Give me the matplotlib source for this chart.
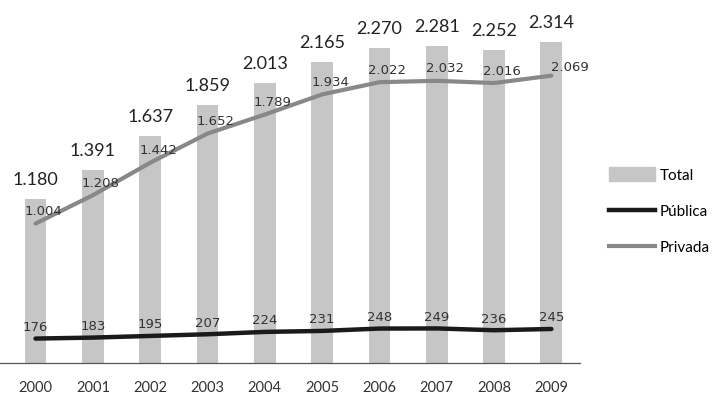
import matplotlib.pyplot as plt
import matplotlib.patches as mpatches
from matplotlib.lines import Line2D

years = ["2000", "2001", "2002", "2003", "2004", "2005", "2006", "2007", "2008", "2009"]
total = [1180, 1391, 1637, 1859, 2013, 2165, 2270, 2281, 2252, 2314]
publica = [176, 183, 195, 207, 224, 231, 248, 249, 236, 245]
privada = [1004, 1208, 1442, 1652, 1789, 1934, 2022, 2032, 2016, 2069]


def fmt(v):
    # separador de milhar com ponto
    return f"{v:,}".replace(",", ".")


if __name__ == "__main__":
    plt.rcParams['font.family'] = ['Lato', 'DejaVu Sans']

    fig = plt.figure(figsize=(7.2, 3.99), dpi=100)
    ax = fig.add_axes([0, 0.0902, 0.8056, 0.905])

    x = list(range(len(years)))
    ax.bar(x, total, width=0.38, color="#c6c6c6", zorder=1)
    ax.plot(x, publica, color="#1a1a1a", lw=3.2, solid_capstyle="round", zorder=2)
    ax.plot(x, privada, color="#888888", lw=3.0, solid_capstyle="round", zorder=2)

    for i, v in enumerate(total):
        ax.annotate(fmt(v), (i, v), xytext=(0, 11), textcoords="offset pixels",
                    ha="center", va="bottom", fontsize=13, color="#222222")
    for i, v in enumerate(privada):
        dx, dy = (19, 8) if i == len(privada) - 1 else (8, 12)
        ax.annotate(fmt(v), (i, v), xytext=(dx, dy), textcoords="offset pixels",
                    ha="center", va="center", fontsize=9.5, color="#333333",
                    family="DejaVu Sans", zorder=3)
    for i, v in enumerate(publica):
        ax.annotate(fmt(v), (i, v), xytext=(0, 11), textcoords="offset pixels",
                    ha="center", va="center", fontsize=9.5, color="#333333",
                    family="DejaVu Sans", zorder=3)

    ax.set_xlim(-0.62, 9.5)
    ax.set_ylim(0, 2600)
    ax.set_xticks(x)
    ax.set_xticklabels(years, fontsize=10.5, color="#333333")
    ax.tick_params(axis="x", length=0, pad=13)
    ax.set_yticks([])
    for s in ["top", "right", "left"]:
        ax.spines[s].set_visible(False)
    ax.spines["bottom"].set_color("#555555")
    ax.spines["bottom"].set_linewidth(0.9)

    handles = [
        mpatches.Patch(color="#c6c6c6", label="Total"),
        Line2D([], [], color="#1a1a1a", lw=3.2, label="Pública"),
        Line2D([], [], color="#888888", lw=3.0, label="Privada"),
    ]
    fig.legend(handles=handles, loc="center left", bbox_to_anchor=(0.835, 0.47),
               frameon=False, fontsize=11, handlelength=3.0, handleheight=1.0,
               handletextpad=0.3, labelspacing=1.4, borderpad=0)

    plt.savefig("out.png", dpi=100)
